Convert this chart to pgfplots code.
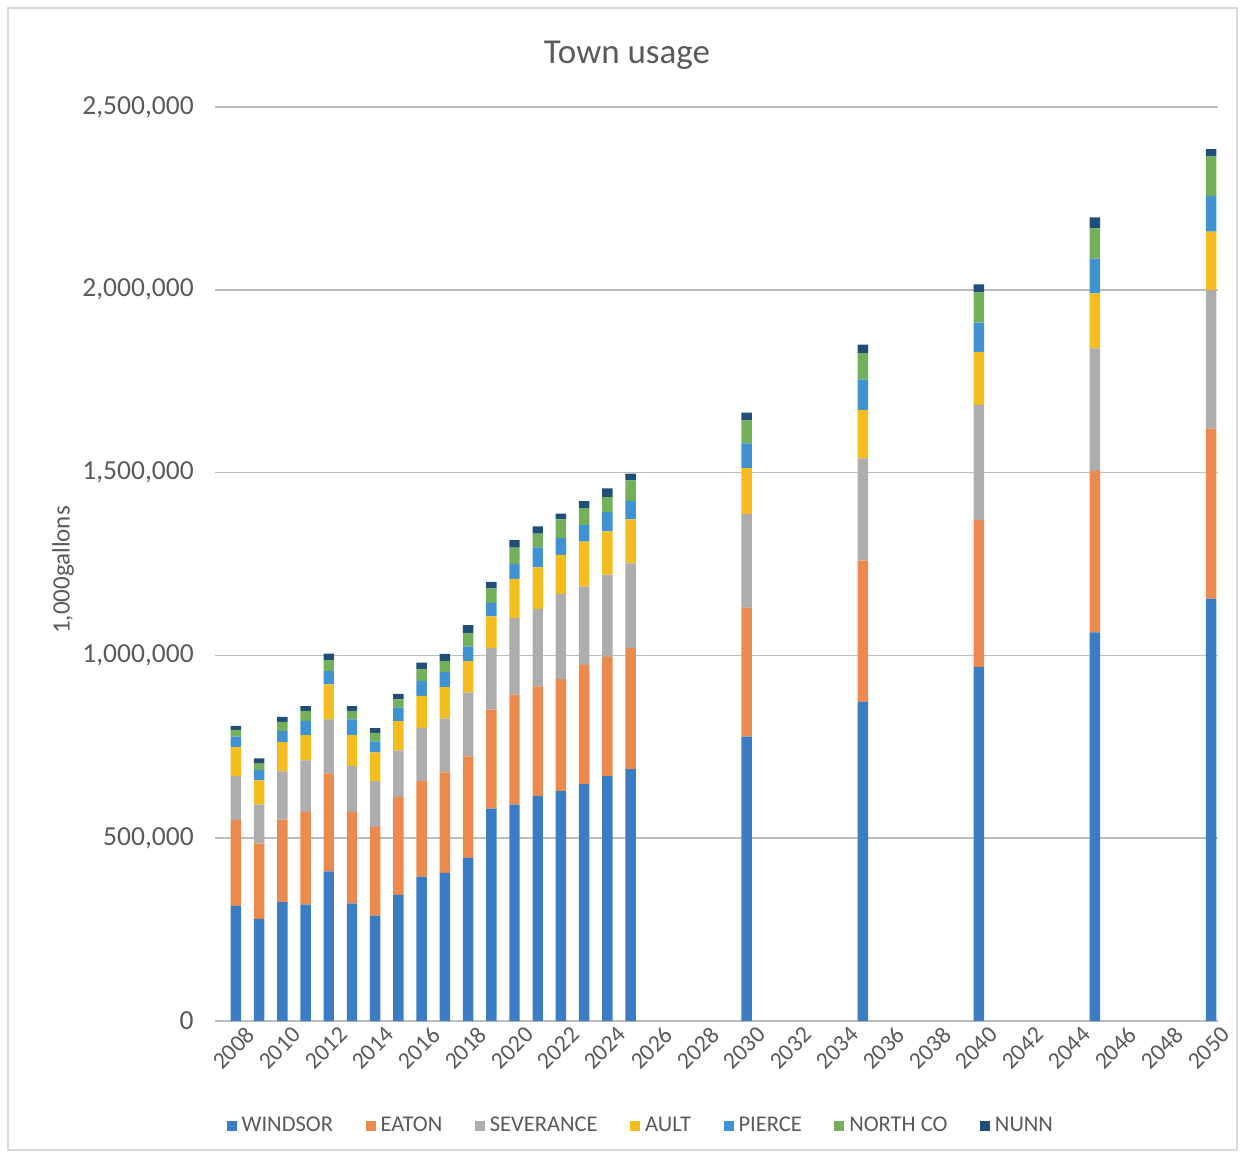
\documentclass[border=0pt]{standalone}
\usepackage{pgfplots}
\pgfplotsset{compat=1.18}
\usepackage{pgfplotstable}
\usepackage{fontspec}
\setmainfont{Carlito}

\definecolor{cWindsor}{HTML}{3B7DC4}
\definecolor{cEaton}{HTML}{EC8A4E}
\definecolor{cSeverance}{HTML}{ADADAD}
\definecolor{cAult}{HTML}{F4BD1E}
\definecolor{cPierce}{HTML}{3F93D3}
\definecolor{cNorthCo}{HTML}{74AF5A}
\definecolor{cNunn}{HTML}{1F4E79}
\definecolor{txtgray}{HTML}{5A5A5A}
\definecolor{gridgray}{HTML}{BDBDBD}

% Annual usage by town, 1,000 gallons
\pgfplotstableread{
year windsor eaton severance ault pierce northco nunn
2008 315000 235000 120000 79000 29000 18000 11000
2009 279000 206000 107000 66000 28000 18000 14000
2010 325000 226000 132000 80000 30000 25000 14000
2011 318000 253000 142000 69000 38000 28000 13000
2012 409000 268000 148000 96000 36000 30000 18000
2013 322000 249000 126000 85000 43000 23000 13000
2014 288000 242000 126000 79000 30000 23000 13000
2015 345000 268000 127000 80000 37000 23000 15000
2016 395000 261000 146000 87000 41000 32000 18000
2017 405000 275000 148000 85000 41000 30000 20000
2018 446000 278000 174000 86000 41000 36000 22000
2019 581000 271000 168000 87000 37000 39000 18000
2020 592000 301000 209000 107000 41000 45000 20000
2021 615000 300000 212000 114000 54000 38000 20000
2022 629000 306000 233000 107000 46000 51000 16000
2023 648000 326000 214000 123000 46000 46000 19000
2024 670000 325000 226000 118000 53000 41000 24000
2025 689000 331000 232000 120000 51000 56000 18000
2030 778000 353000 256000 125000 68000 63000 21000
2035 873000 386000 280000 132000 83000 73000 23000
2040 968000 403000 314000 145000 80000 83000 22000
2045 1063000 442000 335000 150000 95000 83000 30000
2050 1155000 465000 380000 159000 98000 109000 19000
}\usagetable

\begin{document}
\begin{tikzpicture}
\path[use as bounding box] (0pt,0pt) rectangle (498pt,463.2pt);
\draw[gray!30, line width=0.8pt] (3.2pt,3.2pt) rectangle (494.8pt,460pt);
\node[font=\fontsize{14}{16}\selectfont, text=txtgray] at (250.8pt,441pt) {Town usage};
\node[rotate=90, font=\fontsize{10}{12}\selectfont, text=txtgray] at (25.2pt,235.2pt) {1,000gallons};
\begin{axis}[
  at={(86pt,54.8pt)}, anchor=south west,
  scale only axis, width=401.2pt, height=365.6pt,
  ybar stacked, bar width=0.45,
  xmin=2007.1, xmax=2050.3, ymin=0, ymax=2500000,
  xtick={2008,2010,...,2050},
  ytick={0,500000,...,2500000},
  scaled y ticks=false,
  ymajorgrids, grid style={gridgray, line width=0.7pt},
  axis line style={draw=none},
  major tick length=0pt,
  /pgf/number format/assume math mode=true,
  yticklabel style={/pgf/number format/.cd, fixed, 1000 sep={,}, /tikz/.cd,
    font=\fontsize{11}{13}\selectfont, text=txtgray, xshift=-5pt},
  xticklabel style={/pgf/number format/1000 sep={}, rotate=45, anchor=east,
    font=\fontsize{9.5}{11}\selectfont, text=txtgray, xshift=2.5pt, yshift=-7pt,
    inner sep=1pt},
  legend columns=-1,
  legend style={at={(0.426,-0.115)}, anchor=center, draw=none, fill=none,
    font=\fontsize{9}{11}\selectfont, text=txtgray,
    /tikz/every even column/.append style={column sep=11pt}},
  legend image code/.code={\path[#1] (0pt,-2pt) rectangle (4pt,2pt);},
  every axis plot/.append style={draw=none},
]
\addplot[fill=cWindsor] table[x=year, y=windsor] {\usagetable};
\addplot[fill=cEaton] table[x=year, y=eaton] {\usagetable};
\addplot[fill=cSeverance] table[x=year, y=severance] {\usagetable};
\addplot[fill=cAult] table[x=year, y=ault] {\usagetable};
\addplot[fill=cPierce] table[x=year, y=pierce] {\usagetable};
\addplot[fill=cNorthCo] table[x=year, y=northco] {\usagetable};
\addplot[fill=cNunn] table[x=year, y=nunn] {\usagetable};
\legend{WINDSOR, EATON, SEVERANCE, AULT, PIERCE, NORTH CO, NUNN}
\end{axis}
\end{tikzpicture}
\end{document}
